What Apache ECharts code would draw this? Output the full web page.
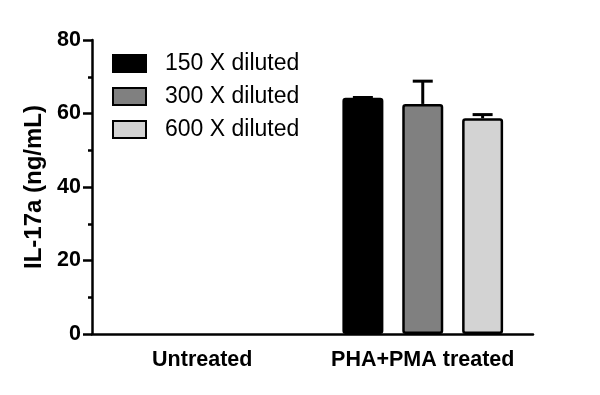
<!DOCTYPE html>
<html>
<head>
<meta charset="utf-8">
<script src="https://cdn.jsdelivr.net/npm/echarts@6/dist/echarts.min.js"></script>
<style>html,body{margin:0;padding:0;background:#fff}#c{width:600px;height:395px}</style>
</head>
<body>
<div id="c"></div>
<script>
var categories = ['Untreated', 'PHA+PMA treated'];
var seriesNames = ['150 X diluted', '300 X diluted', '600 X diluted'];
var values150 = [null, 64.3];
var values300 = [null, 62.6];
var values600 = [null, 58.7];
var sem150 = [null, 0.05];
var sem300 = [null, 6.2];
var sem600 = [null, 1.0];
var yTicks = [0, 20, 40, 60, 80];

var colors = ['#000000', '#808080', '#d3d3d3'];
var allValues = [values150, values300, values600];
var allSem = [sem150, sem300, sem600];
var FONT = '"Liberation Sans", Arial, sans-serif';
var barWidth = 41, barGap = 0.46;

var chart = echarts.init(document.getElementById('c'), null, {renderer: 'canvas'});
var series = [];
seriesNames.forEach(function (name, i) {
  series.push({
    name: name, type: 'bar', data: allValues[i],
    barWidth: barWidth, barGap: (barGap * 100) + '%',
    itemStyle: {color: colors[i], borderColor: '#000', borderWidth: 2.5, borderRadius: 2},
    z: 2
  });
});
seriesNames.forEach(function (name, i) {
  var errData = [];
  for (var k = 0; k < categories.length; k++) {
    if (allValues[i][k] != null) errData.push([k, allValues[i][k], allValues[i][k] + allSem[i][k]]);
  }
  series.push({
    type: 'custom', name: name + ' err', data: errData, z: 1, silent: true,
    encode: {x: 0, y: [1, 2]},
    renderItem: function (params, api) {
      var cat = api.value(0);
      var p0 = api.coord([cat, api.value(1)]);
      var p1 = api.coord([cat, api.value(2)]);
      var off = (i - 1) * barWidth * (1 + barGap);
      var x = p0[0] + off;
      var half = 10;
      return {type: 'group', children: [
        {type: 'line', shape: {x1: x, y1: p0[1], x2: x, y2: p1[1]}, style: {stroke: '#000', lineWidth: 3}},
        {type: 'line', shape: {x1: x - half, y1: p1[1], x2: x + half, y2: p1[1]}, style: {stroke: '#000', lineWidth: 3}}
      ]};
    }
  });
});

chart.setOption({
  animation: false,
  backgroundColor: '#fff',
  grid: {left: 92, right: 67, top: 40, bottom: 61, containLabel: false},
  legend: {
    data: seriesNames, orient: 'vertical', left: 112, top: 52, padding: 0,
    icon: 'rect', itemWidth: 33, itemHeight: 17, itemGap: 10,
    textStyle: {fontFamily: FONT, fontSize: 23, color: '#000', padding: [0, 0, 0, 14]}
  },
  xAxis: {
    type: 'category', data: categories,
    axisLine: {lineStyle: {color: '#000', width: 2.5}},
    axisTick: {alignWithLabel: true, length: 8, lineStyle: {color: '#000', width: 2.5}},
    axisLabel: {interval: 0, fontFamily: FONT, fontSize: 21.5, fontWeight: 'bold', color: '#000', margin: 15}
  },
  yAxis: {
    type: 'value', min: yTicks[0], max: yTicks[yTicks.length - 1], interval: 20,
    name: 'IL-17a (ng/mL)', nameLocation: 'middle', nameGap: 46,
    nameTextStyle: {fontFamily: FONT, fontSize: 24, fontWeight: 'bold', color: '#000'},
    axisLine: {show: true, lineStyle: {color: '#000', width: 2.5}},
    axisTick: {show: true, length: 9, lineStyle: {color: '#000', width: 2.5}},
    minorTick: {show: true, splitNumber: 2, length: 4, lineStyle: {color: '#000', width: 2.5}},
    splitLine: {show: false},
    axisLabel: {fontFamily: FONT, fontSize: 21.5, fontWeight: 'bold', color: '#000', margin: 11}
  },
  series: series
});
</script>
</body>
</html>
